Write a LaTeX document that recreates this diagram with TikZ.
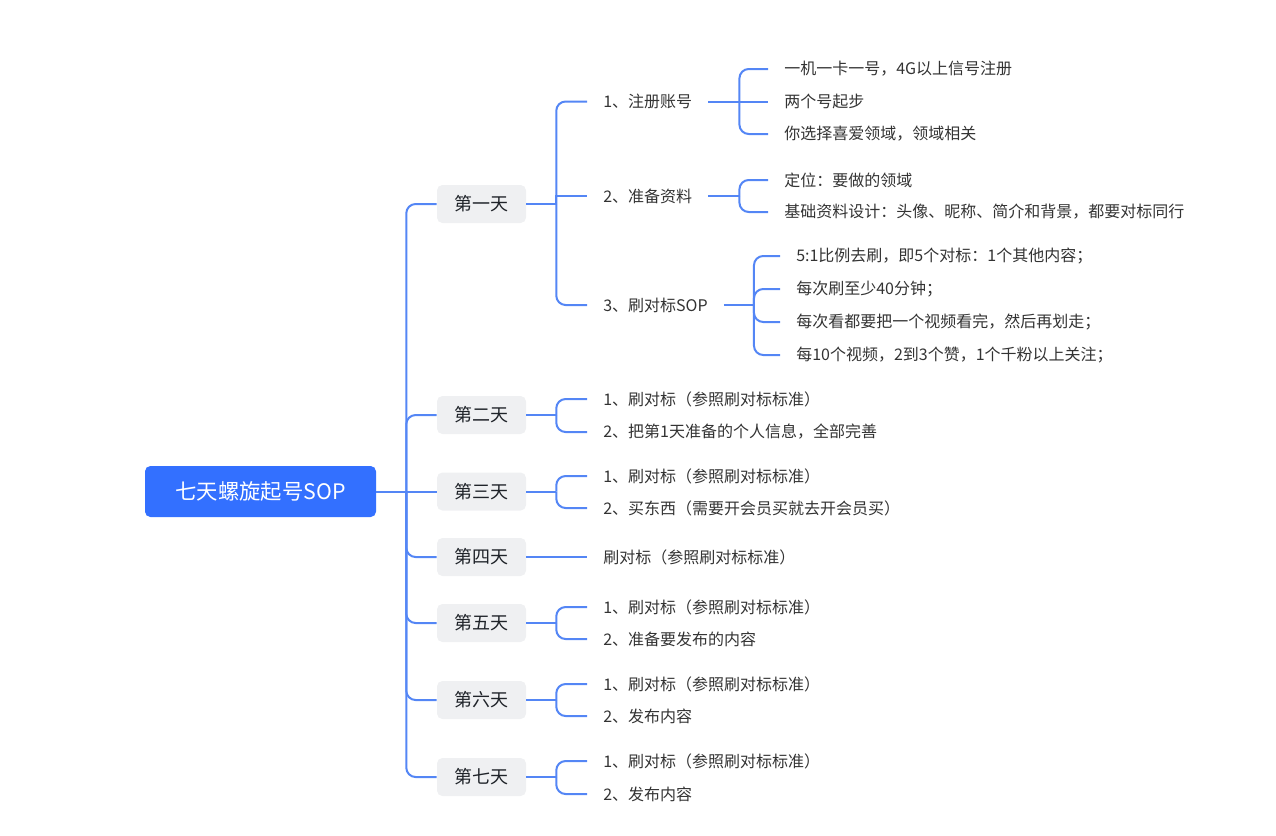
\documentclass[tikz,border=0pt]{standalone}
\usepackage{fontspec}
\setmainfont{Noto Sans CJK SC}
\usetikzlibrary{positioning}
\definecolor{MapBlue}{RGB}{51, 112, 255}
\definecolor{MapLine}{RGB}{84, 134, 245}
\definecolor{MapGray}{RGB}{239, 240, 242}
\definecolor{MapText}{RGB}{51, 51, 51}
\definecolor{DayText}{RGB}{31, 35, 41}
\tikzset{
  rootbox/.style={rectangle, rounded corners=4pt, fill=MapBlue, text=white,
    minimum width=173.25pt, minimum height=38.25pt, inner sep=0pt, font=\fontsize{16}{19}\selectfont},
  daybox/.style={rectangle, rounded corners=4pt, fill=MapGray, text=DayText,
    minimum width=66.75pt, minimum height=28.5pt, inner sep=0pt, font=\fontsize{13.5}{16}\selectfont},
  leaf/.style={anchor=west, inner xsep=12pt, inner ysep=2pt, text=MapText, font=\fontsize{12}{14}\selectfont},
  link/.style={MapLine, line width=1.5pt, rounded corners=7pt},
}
\begin{document}
\begin{tikzpicture}[x=0.75pt, y=-0.75pt]
    \useasboundingbox (0,0) rectangle (1276,835);
    % root
    \node[rootbox] (root) at (260.5,491.5) {七天螺旋起号SOP};
    % days
    \node[daybox] (d1) at (481.5,204) {第一天};
    \node[daybox] (d2) at (481.5,415) {第二天};
    \node[daybox] (d3) at (481.5,491.5) {第三天};
    \node[daybox] (d4) at (481.5,557) {第四天};
    \node[daybox] (d5) at (481.5,623) {第五天};
    \node[daybox] (d6) at (481.5,700) {第六天};
    \node[daybox] (d7) at (481.5,777) {第七天};
    % day 1
    \node[leaf] (reg) at (587,101.5) {1、注册账号};
    \node[leaf] (prep) at (587,196) {2、准备资料};
    \node[leaf] (sop) at (587,305) {3、刷对标SOP};
    \node[leaf] (reg1) at (768,69) {一机一卡一号，4G以上信号注册};
    \node[leaf] (reg2) at (768,101.5) {两个号起步};
    \node[leaf] (reg3) at (768,134) {你选择喜爱领域，领域相关};
    \node[leaf] (prep1) at (768,180) {定位：要做的领域};
    \node[leaf] (prep2) at (768,212) {基础资料设计：头像、昵称、简介和背景，都要对标同行};
    \node[leaf] (sop1) at (780,256) {5:1比例去刷，即5个对标：1个其他内容；};
    \node[leaf] (sop2) at (780,289) {每次刷至少40分钟；};
    \node[leaf] (sop3) at (780,322) {每次看都要把一个视频看完，然后再划走；};
    \node[leaf] (sop4) at (780,355) {每10个视频，2到3个赞，1个千粉以上关注；};
    % day 2 - 7
    \node[leaf] (d2a) at (587,399) {1、刷对标（参照刷对标标准）};
    \node[leaf] (d2b) at (587,432) {2、把第1天准备的个人信息，全部完善};
    \node[leaf] (d3a) at (587,476) {1、刷对标（参照刷对标标准）};
    \node[leaf] (d3b) at (587,508) {2、买东西（需要开会员买就去开会员买）};
    \node[leaf] (d4a) at (587,557) {刷对标（参照刷对标标准）};
    \node[leaf] (d5a) at (587,607) {1、刷对标（参照刷对标标准）};
    \node[leaf] (d5b) at (587,639) {2、准备要发布的内容};
    \node[leaf] (d6a) at (587,684) {1、刷对标（参照刷对标标准）};
    \node[leaf] (d6b) at (587,716) {2、发布内容};
    \node[leaf] (d7a) at (587,761) {1、刷对标（参照刷对标标准）};
    \node[leaf] (d7b) at (587,794) {2、发布内容};
    % connectors
    \draw[link] (root.east) -- ++(30,0) coordinate (jr);
    \foreach \d in {d1,d2,d4,d5,d6,d7}
      \draw[link] (jr) |- (\d.west);
    \draw[link] (jr) -- (d3.west);
    \draw[link] (d1.east) -- ++(30,0) coordinate (j1);
    \draw[link] (j1) |- (reg.west);
    \draw[link, sharp corners] (j1) |- (prep.west);
    \draw[link] (j1) |- (sop.west);
    \draw[link] (reg.east) -- ++(31,0) coordinate (jreg);
    \foreach \l in {reg1,reg3}
      \draw[link] (jreg) |- (\l.west);
    \draw[link] (jreg) -- (reg2.west);
    \draw[link] (prep.east) -- ++(31,0) coordinate (jprep);
    \foreach \l in {prep1,prep2}
      \draw[link] (jprep) |- (\l.west);
    \draw[link] (sop.east) -- ++(30,0) coordinate (jsop);
    \foreach \l in {sop1,sop2,sop3,sop4}
      \draw[link] (jsop) |- (\l.west);
    \foreach \d/\a/\b in {d2/d2a/d2b, d3/d3a/d3b, d5/d5a/d5b, d6/d6a/d6b, d7/d7a/d7b}{
      \draw[link] (\d.east) -- ++(30,0) coordinate (j\d);
      \draw[link] (j\d) |- (\a.west);
      \draw[link] (j\d) |- (\b.west);
    }
    \draw[link] (d4.east) -- (d4a.west);
\end{tikzpicture}
\end{document}
